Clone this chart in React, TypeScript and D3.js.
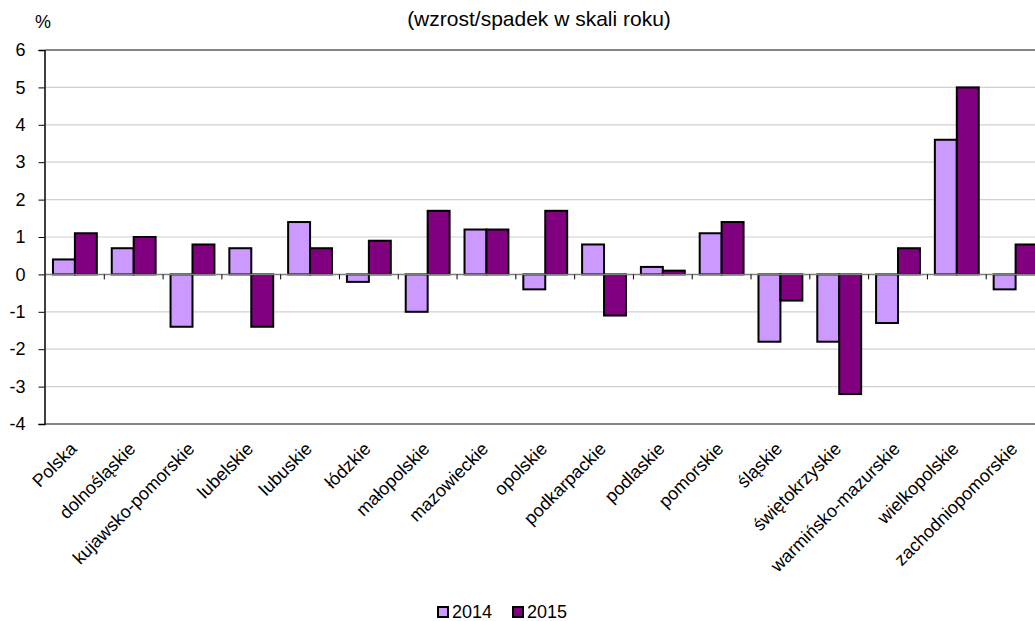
import React, { useEffect, useRef } from 'react';
import * as d3 from 'd3';

const regions = [
  'Polska', 'dolnośląskie', 'kujawsko-pomorskie', 'lubelskie', 'lubuskie', 'łódzkie',
  'małopolskie', 'mazowieckie', 'opolskie', 'podkarpackie', 'podlaskie', 'pomorskie',
  'śląskie', 'świętokrzyskie', 'warmińsko-mazurskie', 'wielkopolskie', 'zachodniopomorskie',
];
const values2014 = [0.4, 0.7, -1.4, 0.7, 1.4, -0.2, -1.0, 1.2, -0.4, 0.8, 0.2, 1.1, -1.8, -1.8, -1.3, 3.6, -0.4];
const values2015 = [1.1, 1.0, 0.8, -1.4, 0.7, 0.9, 1.7, 1.2, 1.7, -1.1, 0.1, 1.4, -0.7, -3.2, 0.7, 5.0, 0.8];
const seriesNames = ['2014', '2015'];
const seriesColors = ['#cc99ff', '#800080'];
const yTicks = [6, 5, 4, 3, 2, 1, 0, -1, -2, -3, -4];

const App: React.FC = () => {
  const svgRef = useRef<SVGSVGElement>(null);

  useEffect(() => {
    if (!svgRef.current) return;
    const width = 1035;
    const height = 621;
    const left = 45.5;
    const plotRight = 1045; // plot runs past the picture's right edge
    const top = 50;
    const bottom = 424;
    const font = 'Arial, "Liberation Sans", sans-serif';

    const svg = d3.select(svgRef.current);
    svg.selectAll('*').remove();
    svg.attr('width', width).attr('height', height);

    const x = d3.scaleBand<string>().domain(regions).range([left, plotRight]).paddingInner(0).paddingOuter(0);
    const xs = d3.scaleBand<string>().domain(seriesNames).range([0, x.bandwidth()]).paddingInner(0).paddingOuter(0.34);
    const y = d3.scaleLinear().domain([-4, 6]).range([bottom, top]);

    // gridlines
    svg.append('g')
      .selectAll('line')
      .data(yTicks.filter(t => t !== 0 && t !== 6 && t !== -4))
      .join('line')
      .attr('x1', left).attr('x2', plotRight)
      .attr('y1', d => y(d)).attr('y2', d => y(d))
      .attr('stroke', '#d0d0d0').attr('stroke-width', 1.2);

    // top and bottom frame
    [6, -4].forEach(v => {
      svg.append('line')
        .attr('x1', left).attr('x2', plotRight)
        .attr('y1', y(v)).attr('y2', y(v))
        .attr('stroke', '#858585').attr('stroke-width', 2);
    });

    // bars
    const series = [values2014, values2015];
    series.forEach((vals, si) => {
      svg.append('g')
        .selectAll('rect')
        .data(vals)
        .join('rect')
        .attr('x', (_, i) => (x(regions[i]) ?? 0) + (xs(seriesNames[si]) ?? 0))
        .attr('width', xs.bandwidth())
        .attr('y', d => y(Math.max(0, d)))
        .attr('height', d => Math.abs(y(d) - y(0)))
        .attr('fill', seriesColors[si])
        .attr('stroke', '#000')
        .attr('stroke-width', 2);
    });

    // zero line with category ticks
    svg.append('line')
      .attr('x1', left).attr('x2', plotRight)
      .attr('y1', y(0)).attr('y2', y(0))
      .attr('stroke', '#808080').attr('stroke-width', 1.5);
    svg.append('g')
      .selectAll('line')
      .data(regions.slice(1))
      .join('line')
      .attr('x1', d => x(d) ?? 0).attr('x2', d => x(d) ?? 0)
      .attr('y1', y(0)).attr('y2', y(0) + 5)
      .attr('stroke', '#000').attr('stroke-width', 1);

    // y axis (hyphen minus, as in the source)
    const yAxis = svg.append('g').attr('transform', `translate(${left - 1},0)`)
      .call(d3.axisLeft(y).tickValues(yTicks).tickSize(6).tickFormat(d => String(d)));
    yAxis.select('.domain').attr('stroke', '#000').attr('stroke-width', 1.5);
    yAxis.selectAll('.tick line').attr('stroke', '#000');
    yAxis.selectAll('.tick text')
      .attr('x', -19)
      .attr('font-size', 18)
      .attr('font-family', font)
      .attr('fill', '#000');

    // x labels
    svg.append('g')
      .selectAll('text')
      .data(regions)
      .join('text')
      .attr('transform', d => `translate(${(x(d) ?? 0) + x.bandwidth() / 2 + 3},${bottom + 26}) rotate(-45)`)
      .attr('text-anchor', 'end')
      .attr('font-size', 18)
      .attr('font-family', font)
      .attr('fill', '#000')
      .text(d => d);

    // unit and title
    svg.append('text')
      .attr('x', 43).attr('y', 28)
      .attr('text-anchor', 'middle')
      .attr('font-size', 18).attr('font-family', font)
      .text('%');
    svg.append('text')
      .attr('x', 539).attr('y', 26)
      .attr('text-anchor', 'middle')
      .attr('font-size', 21).attr('font-family', font)
      .text('(wzrost/spadek w skali roku)');

    // legend
    const legendX = [438, 513];
    seriesNames.forEach((name, i) => {
      const g = svg.append('g').attr('transform', `translate(${legendX[i]},${607})`);
      g.append('rect')
        .attr('x', 0).attr('y', 0).attr('width', 10).attr('height', 10)
        .attr('fill', seriesColors[i]).attr('stroke', '#000').attr('stroke-width', 2);
      g.append('text')
        .attr('x', 14).attr('y', 11)
        .attr('font-size', 18).attr('font-family', font)
        .text(name);
    });
  }, []);

  return (
    <svg ref={svgRef} style={{ position: 'absolute', left: 0, top: 0, overflow: 'hidden', background: '#fff' }} />
  );
};

export default App;
